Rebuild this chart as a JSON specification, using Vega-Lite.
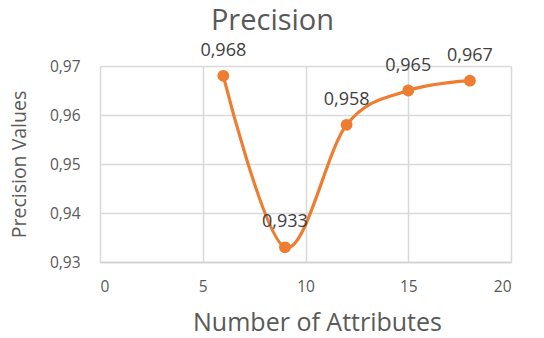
{
  "$schema": "https://vega.github.io/schema/vega-lite/v6.json",
  "autosize": "none",
  "width": 411,
  "height": 196,
  "padding": {"left": 100, "top": 66, "right": 33, "bottom": 76},
  "background": "white",
  "title": {"text": "Precision", "fontSize": 29, "font": "Open Sans", "fontWeight": "normal", "color": "#595959", "anchor": "middle", "offset": 14, "dy": 8, "dx": -33},
  "data": {"values": [
    {"attributes": 6, "precision": 0.968},
    {"attributes": 9, "precision": 0.933},
    {"attributes": 12, "precision": 0.958},
    {"attributes": 15, "precision": 0.965},
    {"attributes": 18, "precision": 0.967}
  ]},
  "encoding": {
    "x": {"field": "attributes", "type": "quantitative", "title": "Number of Attributes",
      "scale": {"domain": [0, 20], "nice": false},
      "axis": {"values": [0, 5, 10, 15, 20], "ticks": false, "labelPadding": 17, "titleX": 217, "titleY": 68, "titleAlign": "center", "titleBaseline": "alphabetic", "domainColor": "#D0D0D0", "domainWidth": 1.5}},
    "y": {"field": "precision", "type": "quantitative", "title": "Precision Values",
      "scale": {"domain": [0.93, 0.97], "nice": false, "zero": false},
      "axis": {"values": [0.93, 0.94, 0.95, 0.96, 0.97], "format": ".2f", "ticks": false, "domain": false, "labelPadding": 20, "titlePadding": 20}}
  },
  "layer": [
    {"mark": {"type": "line", "interpolate": "cardinal", "color": "#ED7D31", "strokeWidth": 3.2}},
    {"mark": {"type": "point", "filled": true, "opacity": 1, "color": "#ED7D31", "size": 140}},
    {"mark": {"type": "text", "dy": -25, "fontSize": 18, "font": "Open Sans", "color": "#404040"},
      "encoding": {"text": {"field": "precision", "type": "quantitative", "format": ".3f"}}}
  ],
  "config": {
    "locale": {"number": {"decimal": ",", "thousands": ".", "grouping": [3], "currency": ["", " €"]}},
    "view": {"stroke": null},
    "axis": {"labelFont": "Open Sans", "labelFontSize": 15.5, "labelColor": "#595959",
      "titleFont": "Open Sans", "titleFontWeight": "normal", "titleColor": "#595959",
      "gridColor": "#D9D9D9", "gridWidth": 1.5},
    "axisX": {"titleFontSize": 25},
    "axisY": {"titleFontSize": 19.5}
  }
}
